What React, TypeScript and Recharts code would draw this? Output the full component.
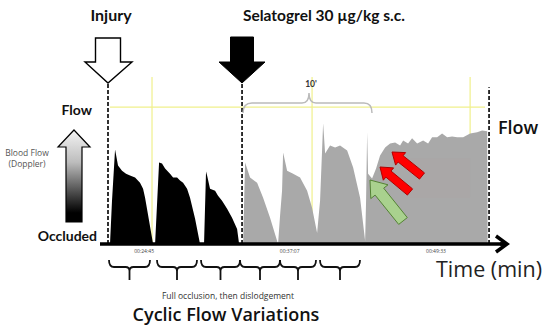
import React from "react";
import { AreaChart, Area, XAxis, YAxis, ReferenceLine, ReferenceArea } from "recharts";

// Time (min) and blood flow (% of baseline flow)
const blackT = [21.85, 22.02, 22.28, 22.53, 22.87, 23.21, 23.55, 23.98, 24.4, 24.66, 24.83, 25.17, 25.51,
  25.68, 26.02, 26.27, 26.53, 26.95, 27.21, 27.55, 27.8, 28.06, 28.4, 28.65, 29.08, 29.5,
  29.84, 30.01, 30.1, 30.35, 30.78, 31.03, 31.37, 31.8, 32.22, 32.65, 32.82];
const blackV = [0, 31.6, 69.1, 57.3, 53.6, 51.4, 50.0, 48.5, 44.8, 40.4, 33.8, 16.9, 0,
  0, 59.5, 58.8, 55.1, 51.4, 48.5, 48.5, 46.3, 44.8, 40.4, 33.8, 18.4, 0,
  0, 52.9, 50.0, 40.4, 38.9, 35.3, 31.6, 25.7, 19.1, 11.0, 0];

const grayT = [33.16, 33.33, 33.75, 34.35, 34.86, 35.45, 36.13, 36.3, 36.47, 36.56, 36.9, 37.41, 38.0, 38.6,
  39.02, 39.45, 39.7, 39.87, 39.96, 40.13, 40.55, 40.98, 41.4, 42.0, 42.51, 43.1, 43.53, 43.61, 43.7,
  43.78, 44.12, 44.46, 44.8, 45.23, 45.65, 46.08, 46.5, 46.76, 47.18, 47.52, 47.95, 48.46, 48.88,
  49.22, 49.65, 50.07, 50.5, 50.92, 51.35, 51.86, 52.45, 53.05, 53.47, 53.9, 53.94];
const grayV = [0, 59.5, 48.5, 44.8, 33.8, 19.1, 0, 20.6, 38.9, 66.9, 53.6, 51.4, 48.5, 38.9,
  26.5, 8.1, 31.6, 68.3, 88.2, 66.1, 72.0, 70.5, 72.0, 68.3, 55.8, 33.8, 2.2, 31.6, 81.6,
  51.4, 47.8, 55.1, 64.7, 70.5, 73.5, 74.2, 72.0, 75.7, 73.5, 77.2, 73.5, 75.7, 73.5,
  77.9, 77.9, 80.8, 77.9, 78.6, 77.9, 77.9, 80.8, 81.6, 83.0, 82.3, 0];

const tickValues = [24.75, 37.12, 49.55];
const tickLabels = ["00:24:45", "00:37:07", "00:49:33"];

// event times (min)
const injuryT = 21.68;
const doseT = 33.07;
const endT = 54.06;
const gridT = [25.42, 39.02, 52.45];

const data = [
  ...blackT.map((t, i) => ({ t, black: blackV[i], gray: null as number | null })),
  ...grayT.map((t, i) => ({ t, black: null as number | null, gray: grayV[i] })),
];

function arrow(tx: number, ty: number, bx: number, by: number, sw: number, hw: number, hl: number) {
  const dx = tx - bx, dy = ty - by;
  const len = Math.sqrt(dx * dx + dy * dy);
  const ux = dx / len, uy = dy / len;
  const nx = -uy, ny = ux;
  const hx = tx - ux * hl, hy = ty - uy * hl;
  const p = [
    [bx + nx * sw / 2, by + ny * sw / 2],
    [hx + nx * sw / 2, hy + ny * sw / 2],
    [hx + nx * hw / 2, hy + ny * hw / 2],
    [tx, ty],
    [hx - nx * hw / 2, hy - ny * hw / 2],
    [hx - nx * sw / 2, hy - ny * sw / 2],
    [bx - nx * sw / 2, by - ny * sw / 2],
  ];
  return p.map((q) => q[0].toFixed(1) + "," + q[1].toFixed(1)).join(" ");
}

const braces: [number, number][] = [[109, 150], [157, 197], [201, 240], [240, 280], [280, 316], [320, 360]];

function bracePath(x0: number, x1: number) {
  const c = (x0 + x1) / 2;
  return `M${x0} 260 Q${x0} 267 ${x0 + 5} 267 L${c - 4} 267 Q${c} 267 ${c} 271 L${c} 280 M${c} 271 Q${c} 267 ${c + 4} 267 L${x1 - 5} 267 Q${x1} 267 ${x1} 260`;
}

const bold = "Lato, 'Open Sans', sans-serif";
const reg = "'Open Sans', 'Noto Sans', sans-serif";

export default function App() {
  return (
    <div style={{ position: "absolute", left: 0, top: 0, width: 550, height: 326, background: "#fff" }}>
      <AreaChart width={550} height={326} data={data} margin={{ top: 77, right: 44, left: 100, bottom: 70 }}>
        <XAxis
          type="number"
          dataKey="t"
          domain={[21, 55.5]}
          ticks={tickValues}
          tickFormatter={(v: number) => tickLabels[tickValues.indexOf(v)] ?? ""}
          tick={{ fontSize: 5, fill: "#444", fontFamily: reg }}
          tickLine={false}
          tickSize={3}
          height={12}
          axisLine={{ stroke: "#000", strokeWidth: 3.5 }}
          allowDataOverflow
        />
        <YAxis hide domain={[0, 122]} allowDataOverflow />
        {gridT.map((g) => (
          <ReferenceLine key={g} x={g} stroke="#f0f08c" strokeWidth={1.2} zIndex={50} />
        ))}
        <ReferenceLine
          segment={[{ x: 21.85, y: 100 }, { x: 53.72, y: 100 }]}
          stroke="#f0f08c"
          strokeWidth={1.2}
          zIndex={50}
        />
        <Area type="linear" dataKey="black" stroke="none" fill="#000" fillOpacity={1} isAnimationActive={false} connectNulls={false} />
        <Area type="linear" dataKey="gray" stroke="none" fill="#a9a9a9" fillOpacity={1} isAnimationActive={false} connectNulls={false} />
        <ReferenceArea x1={47.35} x2={52.45} y1={33.8} y2={62.5} fill="#b09f9f" fillOpacity={0.18} stroke="none" zIndex={150} />
        <ReferenceLine segment={[{ x: injuryT, y: 0 }, { x: injuryT, y: 117.6 }]} stroke="#000" strokeWidth={1.6} strokeDasharray="4 2" zIndex={700} />
        <ReferenceLine segment={[{ x: doseT, y: 0 }, { x: doseT, y: 117.6 }]} stroke="#000" strokeWidth={1.6} strokeDasharray="4 2" zIndex={700} />
        <ReferenceLine segment={[{ x: endT, y: 0 }, { x: endT, y: 114.6 }]} stroke="#000" strokeWidth={1.6} strokeDasharray="4 2" zIndex={700} />
      </AreaChart>
      <svg width={550} height={326} style={{ position: "absolute", left: 0, top: 0, pointerEvents: "none" }}>
        <defs>
          <linearGradient id="bf" x1="0" y1="0" x2="0" y2="1">
            <stop offset="0" stopColor="#f4f4f4" />
            <stop offset="0.35" stopColor="#bdbdbd" />
            <stop offset="0.9" stopColor="#000" />
            <stop offset="1" stopColor="#000" />
          </linearGradient>
        </defs>
        {/* titles */}
        <text x={111} y={21} textAnchor="middle" fontFamily={bold} fontWeight={700} fontSize={16} fill="#111">Injury</text>
        <text x={243} y={21} fontFamily={bold} fontWeight={700} fontSize={15.5} fill="#111">Selatogrel 30 µg/kg s.c.</text>
        {/* injury arrow (hollow) */}
        <polygon points="95.5,38 120.5,38 120.5,62 132,62 108,83 85,62 95.5,62" fill="#fff" stroke="#000" strokeWidth={1.4} strokeLinejoin="miter" />
        {/* dose arrow (filled) */}
        <polygon points="230.5,37 253.5,37 253.5,62 265,62 242,83 219,62 230.5,62" fill="#000" stroke="#000" strokeWidth={1} />
        {/* left labels */}
        <text x={92} y={115} textAnchor="end" fontFamily={bold} fontWeight={700} fontSize={14} fill="#111">Flow</text>
        <text x={27} y={156} textAnchor="middle" fontFamily={reg} fontSize={8.5} fill="#555">Blood Flow</text>
        <text x={27} y={167} textAnchor="middle" fontFamily={reg} fontSize={8.5} fill="#555">(Doppler)</text>
        <polygon points="74,130 90,147 82,147 82,222 66,222 66,147 58,147" fill="url(#bf)" stroke="#000" strokeWidth={1.2} />
        <text x={97} y={241} textAnchor="end" fontFamily={bold} fontWeight={700} fontSize={14} fill="#111">Occluded</text>
        {/* 10' bracket */}
        <path d="M243 113 Q243 103 252 103 L302 103 Q309 103 309 93 Q309 103 316 103 L364 103 Q372 103 372 113" fill="none" stroke="#bbbbbb" strokeWidth={1.5} />
        <text x={311} y={87} textAnchor="middle" fontFamily={bold} fontWeight={700} fontSize={8.5} fill="#333">10'</text>
        {/* right flow label */}
        <text x={498} y={134} fontFamily={reg} fontWeight={600} fontSize={18} fill="#111">Flow</text>
        {/* arrows in trace */}
        <polygon points={arrow(392, 152, 422, 176, 8, 16, 11)} fill="#ff0000" stroke="#b00000" strokeWidth={1} />
        <polygon points={arrow(380, 167, 410, 192, 8, 16, 11)} fill="#ff0000" stroke="#b00000" strokeWidth={1} />
        <polygon points={arrow(370, 180, 403, 221, 11, 22, 15)} fill="#a9d18e" stroke="#548235" strokeWidth={1} />
        {/* time axis arrowhead */}
        <line x1={500} y1={244} x2={505} y2={244} stroke="#000" strokeWidth={3.5} />
        <polyline points="496,236 507,244 496,252" fill="none" stroke="#000" strokeWidth={3.5} />
        <text x={436} y={277} fontFamily={reg} fontSize={21.5} fill="#222">Time (min)</text>
        {/* cycle braces */}
        {braces.map(([a, b]) => (
          <path key={a} d={bracePath(a, b)} fill="none" stroke="#111" strokeWidth={1.8} />
        ))}
        <text x={228} y={299} textAnchor="middle" fontFamily={reg} fontSize={8.5} fill="#333">Full occlusion, then dislodgement</text>
        <text x={226} y={321} textAnchor="middle" fontFamily={reg} fontWeight={600} fontSize={18} fill="#111">Cyclic Flow Variations</text>
      </svg>
    </div>
  );
}
